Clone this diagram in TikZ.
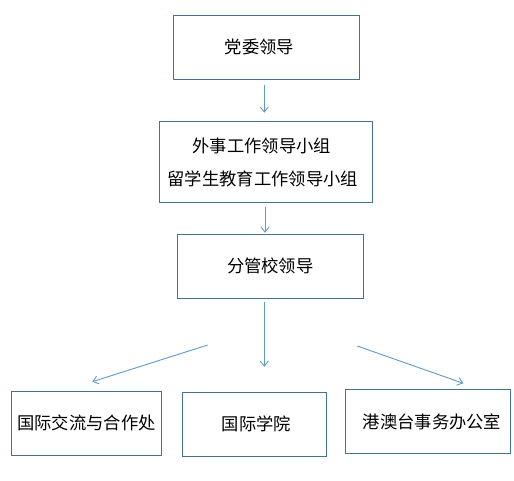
\documentclass[tikz,border=0pt]{standalone}
\usepackage{fontspec}
\setmainfont{Noto Sans CJK SC}
\usetikzlibrary{arrows.meta}
\definecolor{boxc}{HTML}{41719C}
\definecolor{arrc}{HTML}{5B9BD5}
\tikzset{
  box/.style={draw=boxc,line width=1pt,inner sep=0pt,align=center,font=\fontsize{17.3}{33.3}\selectfont},
  arr/.style={draw=arrc,line width=0.9pt,-{Straight Barb[length=5pt,width=8pt,line width=0.9pt]}}
}
\begin{document}
\begin{tikzpicture}[x=1pt,y=-1pt]
\useasboundingbox (0,0) rectangle (514,481);
\fill[white] (0,0) rectangle (514,481);
\node[box,minimum width=186pt,minimum height=64pt] (b1) at (266.3,47.2) {党委领导\hspace*{14pt}};
\node[box,minimum width=213pt,minimum height=81pt] (b2) at (265.8,162.2) {外事工作领导小组\hspace*{8pt}\\留学生教育工作领导小组\hspace*{6pt}};
\node[box,minimum width=186pt,minimum height=64pt] (b3) at (270.3,266.3) {分管校领导};
\node[box,minimum width=150.4pt,minimum height=64pt] (l) at (86.5,423.3) {国际交流与合作处};
\node[box,minimum width=144pt,minimum height=64pt] (m) at (254.3,424.3) {\hspace*{4pt}国际学院};
\node[box,minimum width=165.4pt,minimum height=63.6pt] (r) at (428,421.5) {\hspace*{8pt}港澳台事务办公室};
\coordinate (c1) at (264.3,0);
\coordinate (c2) at (265,0);
\coordinate (ls) at (207.7,345);
\coordinate (le) at (92.3,381.7);
\coordinate (rs) at (357.3,346);
\coordinate (re) at (463.3,383.3);
\draw[arr,shorten <=5pt,shorten >=8.5pt] (c1 |- b1.south) -- (c1 |- b2.north);
\draw[arr,shorten <=3.5pt,shorten >=1pt] (c2 |- b2.south) -- (c2 |- b3.north);
\draw[arr,shorten <=3pt,shorten >=25pt] (c1 |- b3.south) -- (c1 |- m.north);
\draw[arr] (ls) -- (le);
\draw[arr] (rs) -- (re);
\end{tikzpicture}
\end{document}
